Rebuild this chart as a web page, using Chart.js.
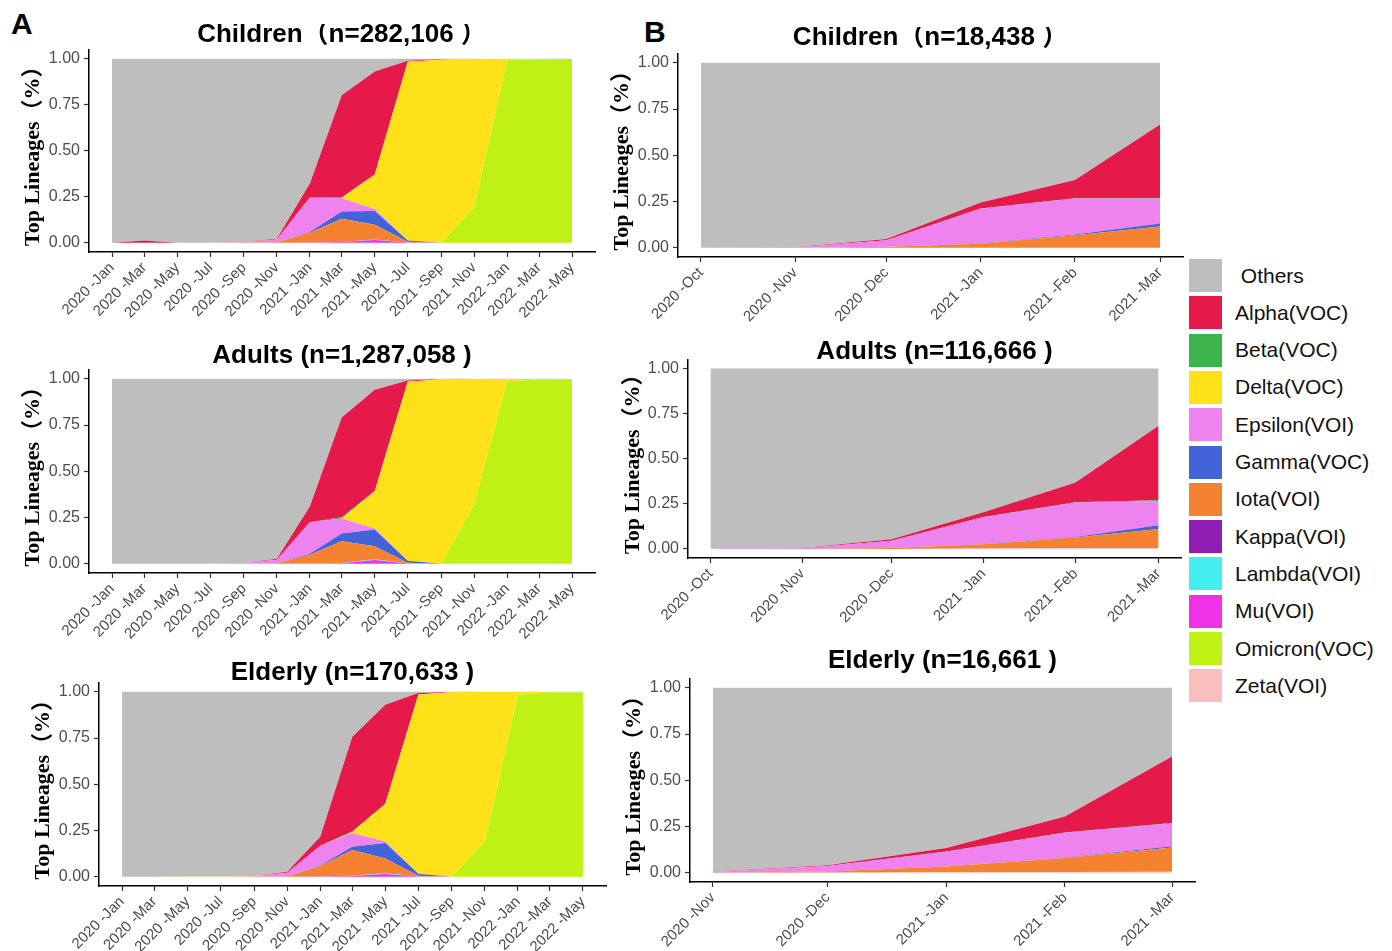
<!DOCTYPE html>
<html>
<head>
<meta charset="utf-8">
<script src="https://cdn.jsdelivr.net/npm/chart.js@4.4.1/dist/chart.umd.min.js"></script>
<style>
  body { margin: 0; background: #fff; width: 1392px; height: 951px; position: relative; overflow: hidden; }
  .panel { position: absolute; }
  .tag { position: absolute; font: bold 30px 'Liberation Sans', Arial, sans-serif; color: #000; line-height: 1; }
  #legend { position: absolute; left: 1189px; top: 259px; }
  .item { position: absolute; left: 0; height: 33px; display: flex; align-items: center; }
  .sw { width: 33px; height: 33px; margin-right: 13px; }
  .lb { font: 21px 'Liberation Sans', Arial, sans-serif; color: #111; white-space: pre; }
</style>
</head>
<body>
<div class="tag" style="left:11px; top:9px;">A</div>
<div class="tag" style="left:644px; top:17px;">B</div>
<div id="legend"></div>
<script>
// lineages, in legend order (top of stack first)
const keys = ['Others', 'Alpha', 'Beta', 'Delta', 'Epsilon', 'Gamma', 'Iota', 'Kappa', 'Lambda', 'Mu', 'Omicron', 'Zeta'];
const legendNames = [' Others', 'Alpha(VOC)', 'Beta(VOC)', 'Delta(VOC)', 'Epsilon(VOI)', 'Gamma(VOC)', 'Iota(VOI)', 'Kappa(VOI)', 'Lambda(VOI)', 'Mu(VOI)', 'Omicron(VOC)', 'Zeta(VOI)'];
const colors = ['#BEBEBE', '#E6194B', '#3CB44B', '#FFE119', '#EE82EE', '#4363D8', '#F58231', '#911EB4', '#45EFEF', '#F032E6', '#BFF214', '#FABEBE'];

// panel A: every two months
const monthsA = ['2020-01', '2020-03', '2020-05', '2020-07', '2020-09', '2020-11', '2021-01', '2021-03', '2021-05', '2021-07', '2021-09', '2021-11', '2022-01', '2022-03', '2022-05'];
const ticksA = ['2020 -Jan', '2020 -Mar', '2020 -May', '2020 -Jul', '2020 -Sep', '2020 -Nov', '2021 -Jan', '2021 -Mar', '2021 -May', '2021 -Jul', '2021 -Sep', '2021 -Nov', '2022 -Jan', '2022 -Mar', '2022 -May'];
// panel B
const monthsB = ['2020-10', '2020-11', '2020-12', '2021-01', '2021-02', '2021-03'];
const ticksB = ['2020 -Oct', '2020 -Nov', '2020 -Dec', '2021 -Jan', '2021 -Feb', '2021 -Mar'];
const monthsBE = ['2020-11', '2020-12', '2021-01', '2021-02', '2021-03'];
const ticksBE = ['2020 -Nov', '2020 -Dec', '2021 -Jan', '2021 -Feb', '2021 -Mar'];
const yTicks = [0, 0.25, 0.5, 0.75, 1];

const childrenA = {
  Others:  [1, 0.988, 1, 1, 0.995, 0.978, 0.678, 0.199, 0.069, 0.011, 0.003, 0, 0, 0.002, 0.002],
  Alpha:   [0, 0.012, 0, 0, 0, 0.004, 0.076, 0.553, 0.56, 0.006, 0.002, 0, 0, 0, 0],
  Beta:    [0, 0, 0, 0, 0, 0, 0.002, 0.006, 0.002, 0, 0, 0, 0, 0, 0],
  Delta:   [0, 0, 0, 0, 0.001, 0, 0, 0, 0.185, 0.97, 0.995, 0.805, 0.01, 0.001, 0],
  Epsilon: [0, 0, 0, 0, 0.003, 0.015, 0.186, 0.072, 0.011, 0, 0, 0, 0, 0, 0],
  Gamma:   [0, 0, 0, 0, 0, 0, 0.004, 0.04, 0.075, 0.007, 0, 0, 0, 0, 0],
  Iota:    [0, 0, 0, 0, 0.001, 0.003, 0.052, 0.125, 0.08, 0.004, 0, 0, 0, 0, 0],
  Kappa:   [0, 0, 0, 0, 0, 0, 0, 0, 0, 0, 0, 0, 0, 0, 0.001],
  Lambda:  [0, 0, 0, 0, 0, 0, 0, 0.001, 0.003, 0, 0, 0, 0, 0, 0],
  Mu:      [0, 0, 0, 0, 0, 0, 0.002, 0.004, 0.015, 0.002, 0, 0, 0, 0, 0],
  Omicron: [0, 0, 0, 0, 0, 0, 0, 0, 0, 0, 0, 0.195, 0.99, 0.997, 0.997]
};
const adultsA = {
  Others:  [1, 1, 1, 1, 0.996, 0.973, 0.69, 0.21, 0.06, 0.01, 0.002, 0, 0.002, 0.002, 0.004],
  Alpha:   [0, 0, 0, 0, 0, 0.006, 0.085, 0.539, 0.547, 0.006, 0.001, 0, 0, 0, 0],
  Beta:    [0, 0, 0, 0, 0, 0, 0.001, 0.006, 0.003, 0, 0, 0, 0, 0, 0],
  Delta:   [0, 0, 0, 0, 0, 0, 0, 0, 0.2, 0.968, 0.997, 0.68, 0.013, 0.001, 0],
  Epsilon: [0, 0, 0, 0, 0.003, 0.018, 0.17, 0.082, 0.005, 0, 0, 0, 0, 0, 0],
  Gamma:   [0, 0, 0, 0, 0, 0, 0.005, 0.041, 0.09, 0.01, 0, 0, 0, 0, 0],
  Iota:    [0, 0, 0, 0, 0.001, 0.003, 0.048, 0.118, 0.07, 0.004, 0, 0, 0, 0, 0],
  Lambda:  [0, 0, 0, 0, 0, 0, 0, 0.001, 0.005, 0, 0, 0, 0, 0, 0],
  Mu:      [0, 0, 0, 0, 0, 0, 0.001, 0.003, 0.02, 0.002, 0, 0, 0, 0, 0],
  Omicron: [0, 0, 0, 0, 0, 0, 0, 0, 0, 0, 0, 0.32, 0.985, 0.997, 0.996]
};
const elderlyA = {
  Others:  [1, 1, 0.998, 0.998, 0.996, 0.973, 0.784, 0.245, 0.07, 0.007, 0.002, 0, 0.002, 0.002, 0.004],
  Alpha:   [0, 0, 0, 0, 0, 0.005, 0.048, 0.51, 0.535, 0.008, 0.001, 0, 0, 0, 0],
  Beta:    [0, 0, 0, 0, 0, 0, 0.001, 0.005, 0.003, 0, 0, 0, 0, 0, 0],
  Delta:   [0, 0, 0.002, 0.002, 0.001, 0, 0, 0.003, 0.202, 0.969, 0.997, 0.81, 0.014, 0.001, 0],
  Epsilon: [0, 0, 0, 0, 0.002, 0.02, 0.106, 0.075, 0.007, 0, 0, 0, 0, 0, 0],
  Gamma:   [0, 0, 0, 0, 0, 0, 0.003, 0.018, 0.084, 0.01, 0, 0, 0, 0, 0],
  Iota:    [0, 0, 0, 0, 0.001, 0.002, 0.056, 0.139, 0.08, 0.004, 0, 0, 0, 0, 0],
  Lambda:  [0, 0, 0, 0, 0, 0, 0, 0.001, 0.004, 0, 0, 0, 0, 0, 0],
  Mu:      [0, 0, 0, 0, 0, 0, 0.002, 0.004, 0.015, 0.002, 0, 0, 0, 0, 0],
  Omicron: [0, 0, 0, 0, 0, 0, 0, 0, 0, 0, 0, 0.19, 0.984, 0.997, 0.996]
};
const childrenB = {
  Others:  [0.999, 0.997, 0.953, 0.756, 0.634, 0.334],
  Alpha:   [0, 0.001, 0.007, 0.032, 0.098, 0.397],
  Beta:    [0, 0, 0, 0.001, 0.002, 0.003],
  Epsilon: [0.001, 0.002, 0.035, 0.188, 0.195, 0.135],
  Gamma:   [0, 0, 0, 0.001, 0.003, 0.016],
  Iota:    [0, 0, 0.005, 0.022, 0.068, 0.115]
};
const adultsB = {
  Others:  [0.997, 0.995, 0.946, 0.796, 0.632, 0.317],
  Alpha:   [0, 0.001, 0.008, 0.027, 0.109, 0.413],
  Beta:    [0, 0, 0, 0.001, 0.002, 0.004],
  Epsilon: [0.003, 0.004, 0.04, 0.149, 0.19, 0.135],
  Gamma:   [0, 0, 0, 0.001, 0.003, 0.02],
  Iota:    [0, 0, 0.006, 0.024, 0.06, 0.107],
  Zeta:    [0, 0, 0, 0.002, 0.004, 0.004]
};
const elderlyB = {
  Others:  [0.995, 0.959, 0.866, 0.696, 0.371],
  Alpha:   [0.001, 0.004, 0.019, 0.086, 0.36],
  Beta:    [0, 0, 0.001, 0.002, 0.003],
  Epsilon: [0.004, 0.03, 0.08, 0.135, 0.123],
  Gamma:   [0, 0, 0, 0.001, 0.007],
  Iota:    [0, 0.005, 0.031, 0.076, 0.131],
  Zeta:    [0, 0.002, 0.003, 0.004, 0.005]
};

const sans = "'Liberation Sans', Arial, 'Noto Sans CJK SC', sans-serif";
const serif = "'Liberation Serif', 'DejaVu Serif', 'Noto Sans CJK SC', serif";

// days since 2020-01-01, so the x axis spaces months like a date axis
function dayOf(m) {
  return (Date.UTC(+m.slice(0, 4), +m.slice(5, 7) - 1, 1) - Date.UTC(2020, 0, 1)) / 864e5;
}

function makeChart(g, months, tickLabels, series, title) {
  const xs = months.map(dayOf);
  const span = xs[xs.length - 1] - xs[0];
  const yw = 85, xh = 72, rp = 10;
  const cl = g.axisL - yw, ct = g.titleY - 10.25;
  const cw = g.axisR - cl + rp, ch = g.axisB - ct + xh;

  const box = document.createElement('div');
  box.className = 'panel';
  box.style.left = cl + 'px';
  box.style.top = ct + 'px';
  const canvas = document.createElement('canvas');
  canvas.width = cw;
  canvas.height = ch;
  box.appendChild(canvas);
  document.body.appendChild(box);

  // bottom of the stack first
  const stackKeys = keys.slice().reverse().filter(k => series[k]);
  const datasets = stackKeys.map((k, i) => ({
    label: k,
    data: series[k].map((v, j) => ({ x: xs[j], y: v })),
    backgroundColor: colors[keys.indexOf(k)],
    borderWidth: 0,
    pointRadius: 0,
    tension: 0,
    fill: i === 0 ? 'origin' : '-1'
  }));

  new Chart(canvas, {
    type: 'line',
    data: { datasets: datasets },
    options: {
      responsive: false,
      animation: false,
      layout: { padding: { left: 0, top: 0, bottom: 0, right: rp } },
      plugins: {
        legend: { display: false },
        tooltip: { enabled: false },
        title: {
          display: true,
          text: title,
          fullSize: false,
          color: '#000',
          font: { family: sans, size: 26, weight: 'bold', lineHeight: 0.5 },
          padding: { top: 4, bottom: g.axisT - g.titleY - 6.5 }
        }
      },
      scales: {
        x: {
          type: 'linear',
          min: xs[0] - span * 0.05,
          max: xs[xs.length - 1] + span * 0.05,
          afterBuildTicks: s => { s.ticks = xs.map(v => ({ value: v })); },
          afterFit: s => { s.height = xh; s.paddingLeft = 0; s.paddingRight = 0; },
          ticks: {
            autoSkip: false, minRotation: 45, maxRotation: 45, padding: 2,
            color: '#4D4D4D', font: { family: sans, size: 15 },
            callback: (v, i) => tickLabels[i]
          },
          grid: { drawOnChartArea: false, drawTicks: true, tickLength: 5, color: '#333', tickWidth: 1.2 },
          border: { display: true, color: '#000', width: 1.5 }
        },
        y: {
          stacked: true,
          min: -0.05,
          max: 1.05,
          afterBuildTicks: s => { s.ticks = yTicks.map(v => ({ value: v })); },
          afterFit: s => { s.width = yw; s.paddingTop = 0; s.paddingBottom = 0; },
          ticks: {
            padding: 4, color: '#4D4D4D', font: { family: sans, size: 16 },
            callback: v => v.toFixed(2)
          },
          grid: { drawOnChartArea: false, drawTicks: true, tickLength: 5, color: '#333', tickWidth: 1.2 },
          border: { display: true, color: '#000', width: 1.5 },
          title: {
            display: true,
            text: 'Top Lineages（%）',
            color: '#000',
            font: { family: serif, size: 22, weight: 'bold', lineHeight: 1.2 },
            padding: { top: g.yTitleX - cl - 13, bottom: 0 }
          }
        }
      }
    }
  });
}

makeChart({ axisL: 89, axisR: 595, axisT: 49, axisB: 252, titleY: 34, yTitleX: 33 }, monthsA, ticksA, childrenA, 'Children（n=282,106 ）');
makeChart({ axisL: 89, axisR: 595, axisT: 369, axisB: 573, titleY: 355, yTitleX: 33 }, monthsA, ticksA, adultsA, 'Adults (n=1,287,058 )');
makeChart({ axisL: 99, axisR: 606, axisT: 682, axisB: 886, titleY: 672, yTitleX: 43 }, monthsA, ticksA, elderlyA, 'Elderly (n=170,633 )');
makeChart({ axisL: 678, axisR: 1183, axisT: 53, axisB: 257, titleY: 37, yTitleX: 622 }, monthsB, ticksB, childrenB, 'Children（n=18,438 ）');
makeChart({ axisL: 688, axisR: 1181, axisT: 359, axisB: 558, titleY: 351, yTitleX: 633 }, monthsB, ticksB, adultsB, 'Adults (n=116,666 )');
makeChart({ axisL: 690, axisR: 1195, axisT: 678, axisB: 882, titleY: 660, yTitleX: 634 }, monthsBE, ticksBE, elderlyB, 'Elderly (n=16,661 )');

// legend
const legend = document.getElementById('legend');
legendNames.forEach((name, i) => {
  const item = document.createElement('div');
  item.className = 'item';
  item.style.top = (i * 37.3) + 'px';
  item.innerHTML = '<div class="sw" style="background:' + colors[i] + '"></div><span class="lb">' + name + '</span>';
  legend.appendChild(item);
});
</script>
</body>
</html>
